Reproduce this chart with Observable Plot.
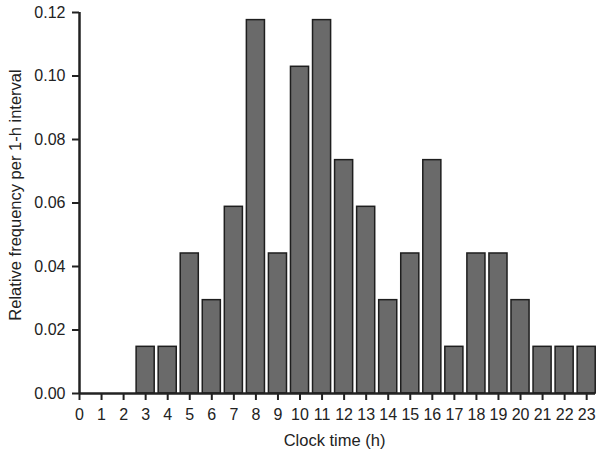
<!DOCTYPE html>
<html><head><meta charset="utf-8">
<script src="https://cdn.jsdelivr.net/npm/d3@7"></script>
<script src="https://cdn.jsdelivr.net/npm/@observablehq/plot@0.6"></script>
<style>body{margin:0;background:#fff}</style>
</head><body><div id="chart"></div>
<script>
const hours = [0,1,2,3,4,5,6,7,8,9,10,11,12,13,14,15,16,17,18,19,20,21,22,23];
const freq = [0,0,0,0.0147,0.0147,0.0441,0.0294,0.0588,0.1176,0.0441,0.1029,0.1176,0.0735,0.0588,0.0294,0.0441,0.0735,0.0147,0.0441,0.0441,0.0294,0.0147,0.0147,0.0147];
const yTicks = [0,0.02,0.04,0.06,0.08,0.10,0.12];
const data = hours.map((h,i)=>({h, f: freq[i]})).filter(d=>d.f>0);
const font = "Liberation Sans, Arial, sans-serif";
const chart = Plot.plot({
  width: 604, height: 457,
  marginLeft: 79, marginRight: 9, marginTop: 12, marginBottom: 64,
  style: {fontFamily: font, fontSize: "16px", color: "#222", background: "#fff"},
  x: {domain: [0, 23.4], label: null},
  y: {domain: [0, 0.12], label: null},
  marks: [
    Plot.rectY(data, {x1: d=>d.h-0.41, x2: d=>d.h+0.41, y: "f", fill: "#6a6a6a", stroke: "#1e1e1e", strokeWidth: 1.5}),
    Plot.axisX({ticks: hours, tickFormat: d=>String(d), tickSize: 7, tickPadding: 8, strokeWidth: 2, label: null}),
    Plot.axisY({ticks: yTicks, tickFormat: d3.format(".2f"), tickSize: 7, tickPadding: 7, strokeWidth: 2, label: null}),
    Plot.ruleY([0], {stroke: "#222", strokeWidth: 2.5}),
    Plot.ruleX([0], {stroke: "#222", strokeWidth: 2.5}),
    Plot.text(["Clock time (h)"], {frameAnchor: "bottom", dx: -3, dy: 52, fontSize: 16.5, fill: "#222"}),
    Plot.text(["Relative frequency per 1-h interval"], {frameAnchor: "left", dx: -64, dy: -8, rotate: -90, textAnchor: "middle", fontSize: 16.5, fill: "#222"})
  ]
});
document.getElementById("chart").appendChild(chart);
</script></body></html>
